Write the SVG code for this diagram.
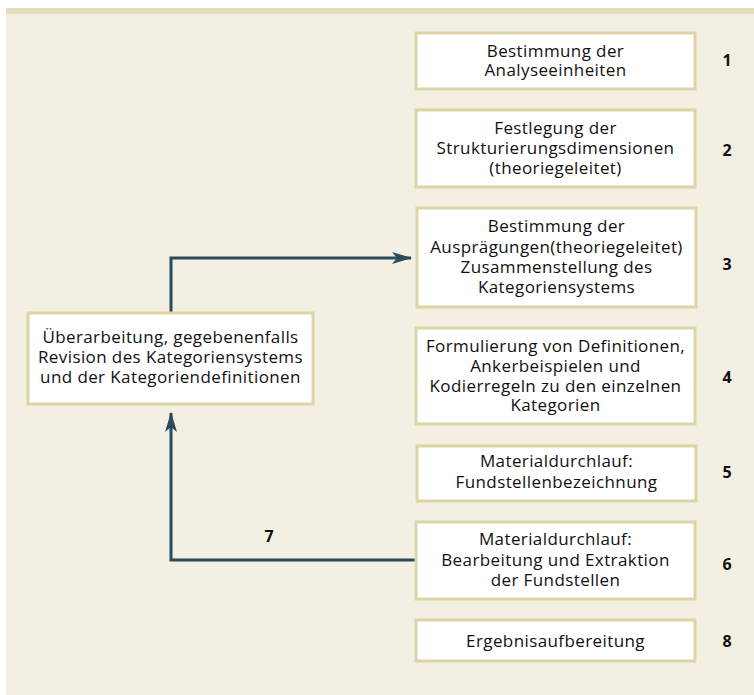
<svg xmlns="http://www.w3.org/2000/svg" width="754" height="695" viewBox="0 0 754 695">
<style>
.box{fill:#ffffff;stroke:#dcd5a6;stroke-width:3}
.t{font-family:"Open Sans","Liberation Sans",sans-serif;font-size:17px;letter-spacing:0.4px;fill:#111;text-anchor:middle}
.n{font-family:"Open Sans","Liberation Sans",sans-serif;font-size:16px;font-weight:bold;fill:#111;text-anchor:middle}
.c{fill:none;stroke:#2b4a5b;stroke-width:3}
</style>
<defs>
<marker id="ah" viewBox="0 0 20 12" refX="19" refY="6" markerWidth="20" markerHeight="12" markerUnits="userSpaceOnUse" orient="auto">
<path d="M0,0 L20,6 L0,12 L5,6 Z" fill="#2b4a5b"/>
</marker>
</defs>
<rect x="6" y="8" width="748" height="687" fill="#f3efe2"/>
<rect x="6" y="8" width="748" height="6" fill="#e4ddbb"/>
<g id="connectors">
<path class="c" d="M171,312 V258 H411" marker-end="url(#ah)"/>
<path class="c" d="M416,560 H171 V413" marker-end="url(#ah)"/>
<text class="n" x="269" y="542">7</text>
</g>
<g id="n1"><rect class="box" x="416" y="33" width="279" height="56"/>
<text class="t" x="555.5" y="57">Bestimmung der</text><text class="t" x="555.5" y="76">Analyseeinheiten</text>
<text class="n" x="727" y="66">1</text></g>
<g id="n2"><rect class="box" x="416" y="110" width="279" height="77"/>
<text class="t" x="555.5" y="134">Festlegung der</text><text class="t" x="555.5" y="154">Strukturierungsdimensionen</text><text class="t" x="555.5" y="174">(theoriegeleitet)</text>
<text class="n" x="727" y="156">2</text></g>
<g id="n3"><rect class="box" x="417" y="208" width="279" height="99"/>
<text class="t" x="556.5" y="232">Bestimmung der</text><text class="t" x="556.5" y="252.5">Ausprägungen(theoriegeleitet)</text><text class="t" x="556.5" y="273">Zusammenstellung des</text><text class="t" x="556.5" y="293">Kategoriensystems</text>
<text class="n" x="727" y="270">3</text></g>
<g id="n4"><rect class="box" x="416" y="328" width="279" height="96"/>
<text class="t" x="555.5" y="352">Formulierung von Definitionen,</text><text class="t" x="555.5" y="372">Ankerbeispielen und</text><text class="t" x="555.5" y="391.5">Kodierregeln zu den einzelnen</text><text class="t" x="555.5" y="411">Kategorien</text>
<text class="n" x="727" y="383">4</text></g>
<g id="n5"><rect class="box" x="417" y="446" width="279" height="55"/>
<text class="t" x="556.5" y="467">Materialdurchlauf:</text><text class="t" x="556.5" y="488">Fundstellenbezeichnung</text>
<text class="n" x="727" y="478">5</text></g>
<g id="n6"><rect class="box" x="416" y="522" width="279" height="77"/>
<text class="t" x="555.5" y="545">Materialdurchlauf:</text><text class="t" x="555.5" y="566">Bearbeitung und Extraktion</text><text class="t" x="555.5" y="586">der Fundstellen</text>
<text class="n" x="727" y="570">6</text></g>
<g id="n8"><rect class="box" x="416" y="620" width="279" height="41"/>
<text class="t" x="555.5" y="647">Ergebnisaufbereitung</text>
<text class="n" x="727" y="647">8</text></g>
<g id="n7"><rect class="box" x="28" y="313" width="285" height="91"/>
<text class="t" x="170.5" y="343">Überarbeitung, gegebenenfalls</text><text class="t" x="170.5" y="363">Revision des Kategoriensystems</text><text class="t" x="170.5" y="383">und der Kategoriendefinitionen</text></g>
</svg>
